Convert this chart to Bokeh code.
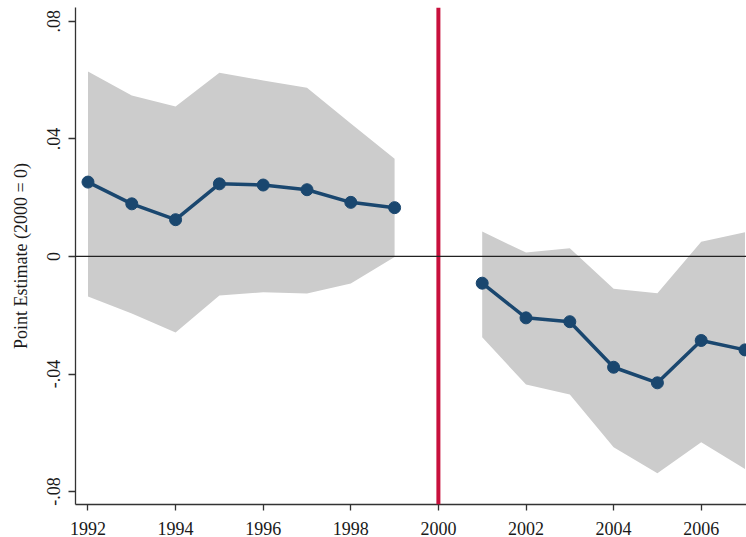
from bokeh.plotting import figure
from bokeh.models import Range1d, FixedTicker, Span
from bokeh.embed import file_html
from bokeh.resources import INLINE

# ---- data ----
years_pre = [1992, 1993, 1994, 1995, 1996, 1997, 1998, 1999]
est_pre = [0.0253, 0.0179, 0.0125, 0.0247, 0.0243, 0.0227, 0.0184, 0.0166]
upper_pre = [0.0629, 0.0548, 0.0510, 0.0625, 0.0599, 0.0574, 0.0452, 0.0332]
lower_pre = [-0.0136, -0.0194, -0.0259, -0.0133, -0.0122, -0.0126, -0.0092, -0.0002]

years_post = [2001, 2002, 2003, 2004, 2005, 2006, 2007]
est_post = [-0.0091, -0.0209, -0.0222, -0.0377, -0.0430, -0.0286, -0.0318]
upper_post = [0.0085, 0.0013, 0.0028, -0.0110, -0.0125, 0.0050, 0.0082]
lower_post = [-0.0275, -0.0436, -0.0470, -0.0649, -0.0738, -0.0632, -0.0723]

event_year = 2000
x_ticks = [1992, 1994, 1996, 1998, 2000, 2002, 2004, 2006]
y_ticks = [-0.08, -0.04, 0.0, 0.04, 0.08]
y_tick_labels = ["-.08", "-.04", "0", ".04", ".08"]
y_title = "Point Estimate (2000 = 0)"

FONT = "Liberation Serif"
NAVY = "#1a476f"
GRAY = "#cccccc"
RED = "#c8103c"

p = figure(width=746, height=537, output_backend="svg", toolbar_location=None,
           x_range=Range1d(1991.715, 2007.034), y_range=Range1d(-0.0844, 0.0847),
           min_border_left=75, min_border_right=0, min_border_top=7,
           min_border_bottom=33)
p.outline_line_color = None
p.grid.visible = False
p.background_fill_color = "white"
p.border_fill_color = "white"

# confidence bands
p.varea(x=years_pre, y1=lower_pre, y2=upper_pre, fill_color=GRAY, fill_alpha=1.0)
p.varea(x=years_post, y1=lower_post, y2=upper_post, fill_color=GRAY, fill_alpha=1.0)

# reference lines
p.add_layout(Span(location=event_year, dimension="height", line_color=RED, line_width=4))
p.add_layout(Span(location=0, dimension="width", line_color="#222222", line_width=1.3))

# estimates
for xs, ys in ((years_pre, est_pre), (years_post, est_post)):
    p.line(xs, ys, line_color=NAVY, line_width=3.5)
    p.scatter(xs, ys, size=12, fill_color=NAVY, line_color=NAVY)

# axes
p.xaxis.ticker = FixedTicker(ticks=x_ticks)
p.yaxis.ticker = FixedTicker(ticks=y_ticks)
p.yaxis.major_label_overrides = {t: l for t, l in zip(y_ticks, y_tick_labels)}
p.yaxis.major_label_orientation = "vertical"
p.yaxis.axis_label = y_title

for ax in (p.xaxis, p.yaxis):
    ax.minor_tick_line_color = None
    ax.major_tick_in = 0
    ax.axis_line_color = "#333333"
    ax.major_tick_line_color = "#333333"
    ax.axis_line_width = 1.3
    ax.major_tick_line_width = 1.3
    ax.major_label_text_font = FONT
    ax.major_label_text_font_size = "18px"
    ax.major_label_text_color = "#1a1a1a"
    ax.axis_label_text_font = FONT
    ax.axis_label_text_font_size = "18px"
    ax.axis_label_text_font_style = "normal"
    ax.axis_label_text_color = "#1a1a1a"

p.xaxis.major_tick_out = 6
p.xaxis.major_label_standoff = 11
p.yaxis.major_tick_out = 7
p.yaxis.major_label_standoff = 8
p.yaxis.axis_label_standoff = 14

open("out.html", "w").write(file_html(p, INLINE))
